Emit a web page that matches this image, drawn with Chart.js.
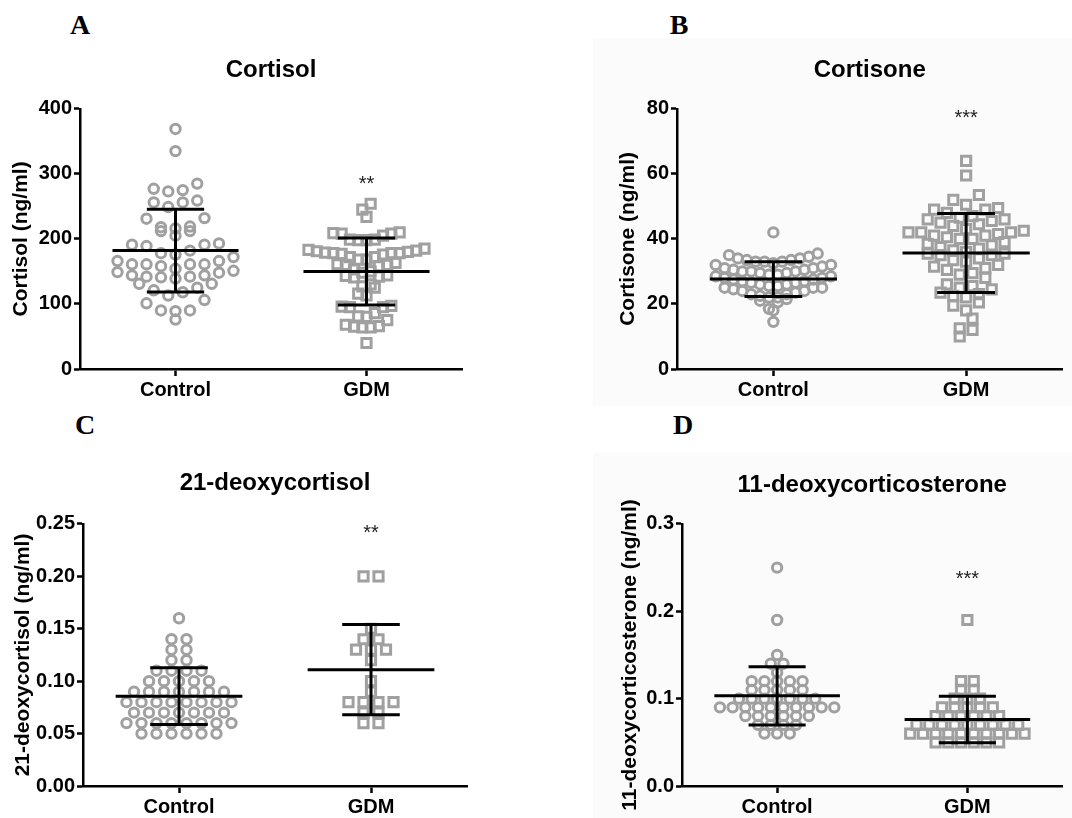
<!DOCTYPE html>
<html>
<head>
<meta charset="utf-8">
<script src="https://cdn.jsdelivr.net/npm/chart.js@4.4.1/dist/chart.umd.min.js"></script>
<style>
  body { margin: 0; background: #fff; }
  #wrap { position: relative; width: 1072px; height: 818px; overflow: hidden; }
  .panel { position: absolute; }
  .shade { position: absolute; background: #fbfbfb; }
  .letter { position: absolute; transform: translate(-50%, -50%); font: bold 28px "Liberation Serif", "Times New Roman", serif; color: #000; }
</style>
</head>
<body>
<div id="wrap">
  <div class="shade" style="left:593px;top:38px;width:479px;height:368px"></div>
  <div class="shade" style="left:593px;top:453px;width:479px;height:365px"></div>
  <div class="letter" style="left:80px;top:25px">A</div>
  <div class="letter" style="left:679px;top:25px">B</div>
  <div class="letter" style="left:85px;top:425px">C</div>
  <div class="letter" style="left:683px;top:425px">D</div>
  <canvas id="chartA" class="panel" style="left:0;top:0" width="540" height="410"></canvas>
  <canvas id="chartB" class="panel" style="left:540px;top:0" width="532" height="410"></canvas>
  <canvas id="chartC" class="panel" style="left:0;top:410px" width="540" height="408"></canvas>
  <canvas id="chartD" class="panel" style="left:540px;top:410px" width="532" height="408"></canvas>
</div>
<script>
const groups = ["Control", "GDM"];

// A - cortisol (ng/ml)
const cortisolControl = [369, 335, 285, 277, 275, 273, 259, 256, 256, 249, 232, 231, 219, 218, 216, 212, 212, 205,
  193, 191, 191, 189, 182, 178, 176, 172, 166, 166, 161, 161, 161, 161, 158, 154, 151, 149, 148, 144, 144, 142,
  142, 141, 139, 131, 131, 125, 121, 118, 113, 106, 101, 90, 90, 89, 76];
const cortisolGDM = [254, 245, 234, 210, 209, 208, 208, 205, 199, 199, 198, 198, 185, 183, 182, 181, 180, 179, 178,
  178, 178, 177, 176, 172, 172, 168, 168, 163, 161, 160, 160, 158, 153, 150, 148, 144, 143, 142, 141, 130, 127, 125,
  116, 113, 97, 96, 95, 95, 86, 81, 80, 75, 68, 66, 65, 64, 64, 40];
const cortisolMean = [182, 150];
const cortisolSD = [63.5, 51.5];
const cortisolStars = ["", "**"];
const cortisolStarY = [null, 290];

// B - cortisone (ng/ml)
const cortisoneControl = [42, 35.5, 35, 34.5, 34, 34, 33.5, 33.5, 33, 33, 33, 32.5, 32, 32, 31.5, 31, 31, 30.5, 30.5,
  30, 30, 30, 29.5, 29.5, 29, 29, 28.5, 28.5, 28, 28, 27.5, 27.5, 27, 27, 26.5, 26.5, 26, 26, 25.5, 25.5, 25, 25, 25,
  24.5, 24, 24, 23.5, 23, 23, 22.5, 22, 22, 21.5, 21, 20.5, 18.5, 18, 14.5];
const cortisoneGDM = [64, 59.5, 53.5, 52, 50.5, 49.5, 49, 49, 48, 47, 46.5, 46, 46, 45.5, 45, 44.5, 44, 43, 42.5, 42,
  42, 42, 41.5, 41, 41, 40.5, 40, 40, 39, 38.5, 38, 37.5, 37, 36.5, 36, 35.5, 35.5, 35, 35, 34, 33.5, 33, 32, 31.5,
  31, 30.5, 29.5, 29, 28, 26, 25.5, 25, 24.5, 23.5, 23, 22.5, 22, 20.5, 19.5, 18, 15.5, 12.5, 12, 10];
const cortisoneMean = [27.65, 35.65];
const cortisoneSD = [5.35, 12.15];
const cortisoneStars = ["", "***"];
const cortisoneStarY = [null, 78.5];

// C - 21-deoxycortisol (ng/ml)
const deoxycortisolControl = [0.16, 0.14, 0.14, 0.13, 0.13, 0.12, 0.12, 0.11, 0.11, 0.11, 0.11,
  0.10, 0.10, 0.10, 0.10, 0.10, 0.09, 0.09, 0.09, 0.09, 0.09, 0.09, 0.09,
  0.08, 0.08, 0.08, 0.08, 0.08, 0.08, 0.08, 0.08, 0.07, 0.07, 0.07, 0.07, 0.07, 0.07, 0.07,
  0.06, 0.06, 0.06, 0.06, 0.06, 0.06, 0.06, 0.06, 0.05, 0.05, 0.05, 0.05, 0.05, 0.05];
const deoxycortisolGDM = [0.20, 0.20, 0.15, 0.14, 0.14, 0.13, 0.13, 0.13, 0.12, 0.10, 0.09,
  0.08, 0.08, 0.08, 0.08, 0.07, 0.07, 0.06, 0.06];
const deoxycortisolMean = [0.0857, 0.111];
const deoxycortisolSD = [0.027, 0.043];
const deoxycortisolStars = ["", "**"];
const deoxycortisolStarY = [null, 0.245];

// D - 11-deoxycorticosterone (ng/ml)
const docControl = [0.25, 0.19, 0.15, 0.14, 0.14, 0.13, 0.12, 0.12, 0.12, 0.12, 0.12, 0.11, 0.11, 0.11, 0.11, 0.11,
  0.10, 0.10, 0.10, 0.10, 0.10, 0.10, 0.10, 0.09, 0.09, 0.09, 0.09, 0.09, 0.09, 0.09, 0.09, 0.09, 0.09,
  0.08, 0.08, 0.08, 0.08, 0.08, 0.08, 0.07, 0.07, 0.07, 0.07, 0.06, 0.06, 0.06];
const docGDM = [0.19, 0.12, 0.12, 0.11, 0.11, 0.10, 0.10, 0.10, 0.09, 0.09, 0.09, 0.09, 0.09,
  0.08, 0.08, 0.08, 0.08, 0.08, 0.08, 0.07, 0.07, 0.07, 0.07, 0.07, 0.07, 0.07, 0.07, 0.07,
  0.06, 0.06, 0.06, 0.06, 0.06, 0.06, 0.06, 0.06, 0.06, 0.06, 0.05, 0.05, 0.05, 0.05, 0.05, 0.05];
const docMean = [0.1032, 0.0761];
const docSD = [0.0333, 0.0267];
const docStars = ["", "***"];
const docStarY = [null, 0.242];

const FONT = '"Liberation Sans", Arial, sans-serif';
const grey = "#a0a0a0";
Chart.defaults.animation = false;

// mean line + SD whiskers
const meanSdPlugin = {
  id: "meanSd",
  afterDatasetsDraw(chart, args, opts) {
    const { ctx, scales: { x, y } } = chart;
    ctx.save();
    ctx.strokeStyle = "#000";
    ctx.lineWidth = 3;
    opts.means.forEach((m, i) => {
      const sd = opts.sds[i];
      const ym = y.getPixelForValue(m), yt = y.getPixelForValue(m + sd), yb = y.getPixelForValue(m - sd);
      const xc = x.getPixelForValue(i);
      const half = x.getPixelForValue(i + 0.33) - xc;
      const cap = x.getPixelForValue(i + 0.15) - xc;
      ctx.beginPath();
      ctx.moveTo(xc - half, ym); ctx.lineTo(xc + half, ym);
      ctx.moveTo(xc, yt); ctx.lineTo(xc, yb);
      ctx.moveTo(xc - cap, yt); ctx.lineTo(xc + cap, yt);
      ctx.moveTo(xc - cap, yb); ctx.lineTo(xc + cap, yb);
      ctx.stroke();
    });
    ctx.restore();
  }
};

// significance asterisks
const starsPlugin = {
  id: "stars",
  afterDatasetsDraw(chart, args, opts) {
    const { ctx, scales: { x, y } } = chart;
    ctx.save();
    ctx.font = "20px " + FONT;
    ctx.fillStyle = "#222";
    ctx.textAlign = "center";
    ctx.textBaseline = "middle";
    opts.marks.forEach((s, i) => {
      if (!s) return;
      ctx.fillText(s, x.getPixelForValue(i), y.getPixelForValue(opts.at[i]) + 4.5);
    });
    ctx.restore();
  }
};

// rows of points spread sideways around the group centre
function swarm(values, idx, chart, bin) {
  const xs = chart.scales.x, ys = chart.scales.y;
  const cx = xs.getPixelForValue(idx);
  const sorted = values.slice().sort((a, b) => b - a);
  const rows = [];
  sorted.forEach(v => {
    const py = ys.getPixelForValue(v);
    const row = rows[rows.length - 1];
    if (row && py - row.top <= bin) row.vals.push(v);
    else rows.push({ top: py, vals: [v] });
  });
  const widest = Math.max(...rows.map(r => r.vals.length));
  const step = widest > 1 ? Math.min(15, 116 / (widest - 1)) : 15;
  const out = [];
  rows.forEach(r => {
    const n = r.vals.length;
    const offs = r.vals.map((_, i) => (i - (n - 1) / 2) * step).sort((a, b) => Math.abs(a) - Math.abs(b));
    const asc = r.vals.slice().sort((a, b) => a - b);
    asc.forEach((v, i) => out.push({ x: xs.getValueForPixel(cx + offs[i]), y: v }));
  });
  return out;
}

function makePanel(id, o) {
  const ctx = document.getElementById(id).getContext("2d");
  const chart = new Chart(ctx, {
    type: "scatter",
    data: {
      datasets: [
        { data: [], pointStyle: "circle", radius: 4.7, borderWidth: 3, borderColor: grey, backgroundColor: "rgba(0,0,0,0)" },
        { data: [], pointStyle: "rect", radius: 6.5, borderWidth: 3, borderColor: grey, backgroundColor: "rgba(0,0,0,0)" }
      ]
    },
    options: {
      responsive: false,
      layout: { padding: o.pad },
      plugins: {
        legend: { display: false },
        tooltip: { enabled: false },
        title: {
          display: true, text: o.title, fullSize: false, color: "#000",
          font: { family: FONT, size: 24, weight: "bold" },
          padding: { top: 0, bottom: o.titleGap }
        },
        meanSd: { means: o.means, sds: o.sds },
        stars: { marks: o.stars, at: o.starY }
      },
      scales: {
        x: {
          type: "linear", min: -0.5, max: 1.5,
          afterBuildTicks: s => { s.ticks = groups.map((g, i) => ({ value: i })); },
          afterFit: s => { s.height = o.xH; },
          ticks: { callback: v => groups[v], color: "#000", padding: 2, maxRotation: 0, autoSkip: false,
            font: { family: FONT, size: 20, weight: "bold" } },
          grid: { drawOnChartArea: false, tickLength: 7, tickWidth: 2.5, tickColor: "#000" },
          border: { color: "#000", width: 2.5 }
        },
        y: {
          min: 0, max: o.max,
          afterFit: s => { s.width = o.yW; },
          ticks: { stepSize: o.step, callback: o.fmt, color: "#000", padding: 2,
            font: { family: FONT, size: 20, weight: "bold" } },
          grid: { drawOnChartArea: false, tickLength: 6, tickWidth: 2.5, tickColor: "#000" },
          border: { color: "#000", width: 2.5 },
          title: { display: true, text: o.yTitle, color: "#000", padding: { top: o.yTitlePad, bottom: 0 },
            font: { family: FONT, size: 21, weight: "bold" } }
        }
      }
    },
    plugins: [meanSdPlugin, starsPlugin]
  });
  chart.data.datasets[0].data = swarm(o.ctrl, 0, chart, o.bin);
  chart.data.datasets[1].data = swarm(o.gdm, 1, chart, o.bin);
  chart.update();
  return chart;
}

makePanel("chartA", {
  title: "Cortisol", yTitle: "Cortisol (ng/ml)", ctrl: cortisolControl, gdm: cortisolGDM,
  means: cortisolMean, sds: cortisolSD, stars: cortisolStars, starY: cortisolStarY,
  max: 400, step: 100, fmt: v => v, bin: 12,
  pad: { left: 0, right: 78, top: 55.6, bottom: 0 }, titleGap: 24.4, yW: 80, xH: 41, yTitlePad: 8.4
});
makePanel("chartB", {
  title: "Cortisone", yTitle: "Cortisone (ng/ml)", ctrl: cortisoneControl, gdm: cortisoneGDM,
  means: cortisoneMean, sds: cortisoneSD, stars: cortisoneStars, starY: cortisoneStarY,
  max: 80, step: 20, fmt: v => v, bin: 10,
  pad: { left: 57, right: 7, top: 55.6, bottom: 0 }, titleGap: 24.4, yW: 80, xH: 41, yTitlePad: 18.4
});
makePanel("chartC", {
  title: "21-deoxycortisol", yTitle: "21-deoxycortisol (ng/ml)", ctrl: deoxycortisolControl, gdm: deoxycortisolGDM,
  means: deoxycortisolMean, sds: deoxycortisolSD, stars: deoxycortisolStars, starY: deoxycortisolStarY,
  max: 0.25, step: 0.05, fmt: v => v.toFixed(2), bin: 6,
  pad: { left: 0, right: 73, top: 58.6, bottom: 0 }, titleGap: 26.5, yW: 83, xH: 32, yTitlePad: 10.4
});
makePanel("chartD", {
  title: "11-deoxycorticosterone", yTitle: "11-deoxycorticosterone (ng/ml)", ctrl: docControl, gdm: docGDM,
  means: docMean, sds: docSD, stars: docStars, starY: docStarY,
  max: 0.3, step: 0.1, fmt: v => v.toFixed(1), bin: 6,
  pad: { left: 62, right: 4, top: 60.6, bottom: 0 }, titleGap: 24.5, yW: 80, xH: 32, yTitlePad: 15.4
});
</script>
</body>
</html>
